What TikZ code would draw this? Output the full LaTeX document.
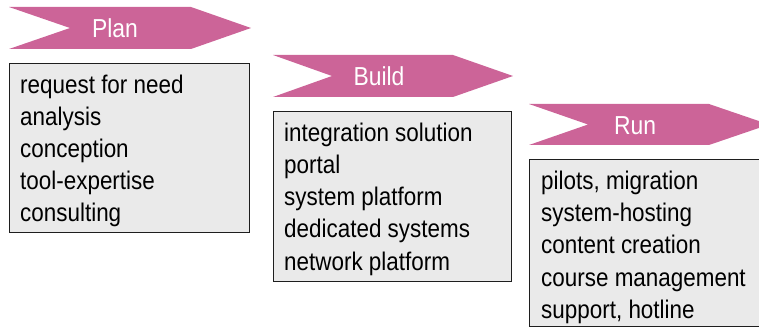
\documentclass[tikz,border=0pt]{standalone}
\usepackage{fontspec}
\setmainfont{Liberation Sans}[FakeStretch=0.88]
\definecolor{chev}{RGB}{204,100,152}
\definecolor{boxfill}{RGB}{234,234,234}
\definecolor{boxline}{RGB}{30,30,30}
\begin{document}
\begin{tikzpicture}[x=1pt,y=-1pt,
  chevron/.style={fill=chev},
  listbox/.style={draw=boxline,fill=boxfill,line width=1.2pt,anchor=north west,inner sep=0pt},
  label/.style={text=white,font=\fontsize{26}{30}\selectfont,anchor=base,inner sep=0pt},
  item/.style={font=\fontsize{25.5}{32}\selectfont,anchor=base west,inner sep=0pt,text=black}]
\useasboundingbox (0,0) rectangle (759,328);
\clip (0,0) rectangle (759,328);
% Plan
\fill[chevron] (9,7) -- (191,7) -- (251,28) -- (191,49) -- (9,49) -- (70,28) -- cycle;
\node[label] (planlbl) at (115,38) {Plan};
\node[listbox,minimum width=240,minimum height=169] (planbox) at (9,63) {};
\foreach \t [count=\i from 0] in {request for need,analysis,conception,tool-expertise,consulting}
  \node[item] (plan\i) at (20,94+32*\i) {\t};
% Build
\fill[chevron] (273,55) -- (453,55) -- (513,76) -- (453,97) -- (273,97) -- (332,76) -- cycle;
\node[label] (buildlbl) at (379,86) {Build};
\node[listbox,minimum width=238,minimum height=170] (buildbox) at (273,111) {};
\foreach \t [count=\i from 0] in {integration solution,portal,system platform,dedicated systems,network platform}
  \node[item] (build\i) at (284,142+32*\i) {\t};
% Run
\fill[chevron] (529,104) -- (709,104) -- (769,124.5) -- (709,145) -- (529,145) -- (588,124.5) -- cycle;
\node[label] (runlbl) at (635,135) {Run};
\node[listbox,minimum width=260,minimum height=167] (runbox) at (529,159) {};
\foreach \t [count=\i from 0] in {{pilots, migration},system-hosting,content creation,course management,{support, hotline}}
  \node[item] (run\i) at (541,190+32*\i) {\t};
\end{tikzpicture}
\end{document}
